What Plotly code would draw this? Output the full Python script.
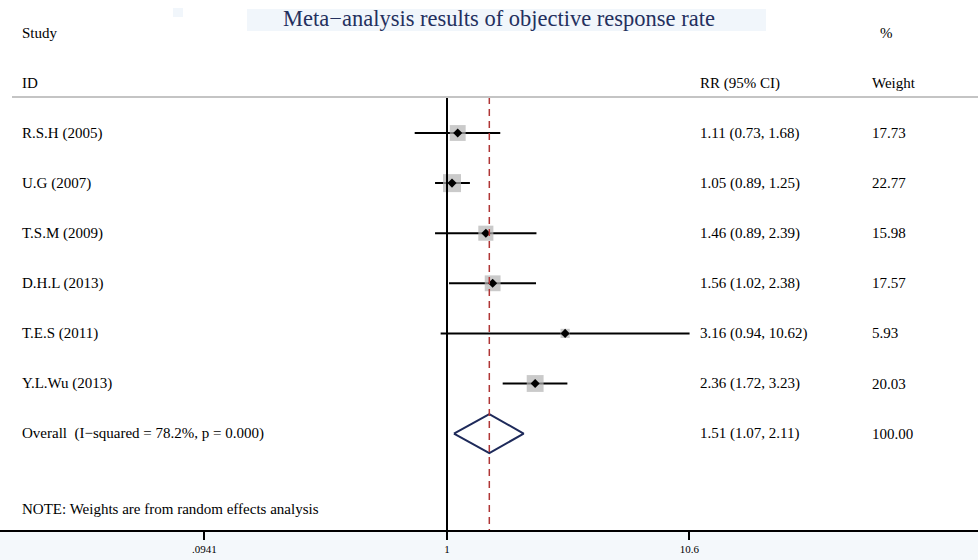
import plotly.graph_objects as go
import math

studies = ["R.S.H (2005)", "U.G (2007)", "T.S.M (2009)", "D.H.L (2013)", "T.E.S (2011)", "Y.L.Wu (2013)"]
rr = [1.11, 1.05, 1.46, 1.56, 3.16, 2.36]
lo = [0.73, 0.89, 0.89, 1.02, 0.94, 1.72]
hi = [1.68, 1.25, 2.39, 2.38, 10.62, 3.23]
weights = [17.73, 22.77, 15.98, 17.57, 5.93, 20.03]
overall_label = "Overall  (I\u2212squared = 78.2%, p = 0.000)"
overall = [1.51, 1.07, 2.11]
overall_weight = 100.00
tick_vals = [0.0941, 1, 10.6]
tick_text = [".0941", "1", "10.6"]

FONT = "Liberation Serif"
W, H = 978, 560
MB = 30
PH = H - MB
ROW0, ROWH = 133, 50.1


def ypix_to_row(p):
    return (p - ROW0) / ROWH


rows = list(range(len(studies)))
orow = len(studies)

fig = go.Figure()

# CI lines
xs, ys = [], []
for i in rows:
    xs += [lo[i], hi[i], None]
    ys += [i, i, None]
fig.add_trace(go.Scatter(x=xs, y=ys, mode="lines", line=dict(color="black", width=2),
                         hoverinfo="skip", showlegend=False))

# weight squares
fig.add_trace(go.Scatter(x=rr, y=rows, mode="markers",
                         marker=dict(symbol="square", color="#b4b4b4",
                                     size=[18 * math.sqrt(w / max(weights)) for w in weights],
                                     line=dict(width=0)),
                         hoverinfo="skip", showlegend=False))
# point estimates
fig.add_trace(go.Scatter(x=rr, y=rows, mode="markers",
                         marker=dict(symbol="diamond", color="black", size=7, line=dict(width=0)),
                         hoverinfo="skip", showlegend=False))

# overall diamond
dh = 0.39
fig.add_trace(go.Scatter(x=[overall[1], overall[0], overall[2], overall[0], overall[1]],
                         y=[orow, orow - dh, orow, orow + dh, orow], mode="lines",
                         line=dict(color="#1e2a5a", width=2), hoverinfo="skip", showlegend=False))

top_line = ypix_to_row(97)
bottom = ypix_to_row(PH)
top = ypix_to_row(0)

shapes = [
    dict(type="line", xref="x", yref="y", x0=1, x1=1, y0=top_line, y1=bottom,
         line=dict(color="black", width=2)),
    dict(type="line", xref="x", yref="y", x0=overall[0], x1=overall[0], y0=top_line, y1=bottom,
         line=dict(color="#b03636", width=1.5, dash="7px,5px")),
    dict(type="line", xref="paper", yref="y", x0=12 / W, x1=1, y0=top_line, y1=top_line,
         line=dict(color="#c4c4c4", width=2)),
    dict(type="rect", xref="paper", yref="y", x0=247 / W, x1=766 / W,
         y0=ypix_to_row(9), y1=ypix_to_row(31), fillcolor="#f1f6fb", line=dict(width=0), layer="below"),
    dict(type="rect", xref="paper", yref="y", x0=173 / W, x1=183 / W,
         y0=ypix_to_row(8), y1=ypix_to_row(17), fillcolor="#f1f6fb", line=dict(width=0), layer="below"),
    dict(type="rect", xref="paper", yref="paper", x0=0, x1=1, y0=-MB / PH, y1=0,
         fillcolor="#f4f8fb", line=dict(width=0), layer="below"),
]

ann = []


def txt(x, row, s, size=15, color="black", xanchor="left"):
    ann.append(dict(x=x / W, xref="paper", y=row, yref="y", text=s, showarrow=False,
                    xanchor=xanchor, yanchor="middle",
                    font=dict(family=FONT, size=size, color=color)))


txt(499, ypix_to_row(18), "Meta\u2212analysis results of objective response rate", size=22.5,
    color="#24305e", xanchor="center")
txt(20, ypix_to_row(33), "Study")
txt(20, ypix_to_row(83), "ID")
txt(698, ypix_to_row(83), "RR (95% CI)")
txt(878, ypix_to_row(33), "%")
txt(870, ypix_to_row(83), "Weight")
for i in rows:
    txt(20, i, studies[i])
    txt(698, i, f"{rr[i]:.2f} ({lo[i]:.2f}, {hi[i]:.2f})")
    txt(870, i, f"{weights[i]:.2f}")
txt(20, orow, overall_label)
txt(698, orow, f"{overall[0]:.2f} ({overall[1]:.2f}, {overall[2]:.2f})")
txt(870, orow, f"{overall_weight:.2f}")
txt(20, ypix_to_row(509), "NOTE: Weights are from random effects analysis")

# x axis: 1 at px 447, 236.4 px per decade
ppd = 236.4
xr = [-447 / ppd, (W - 447) / ppd]

fig.update_layout(
    width=W, height=H,
    margin=dict(l=0, r=0, t=0, b=MB),
    paper_bgcolor="white", plot_bgcolor="white",
    shapes=shapes, annotations=ann,
    xaxis=dict(type="log", range=xr, tickvals=tick_vals, ticktext=tick_text,
               showgrid=False, zeroline=False, showline=True, linecolor="black", linewidth=2,
               ticks="outside", ticklen=8, tickwidth=1.5, tickcolor="black",
               tickfont=dict(family=FONT, size=11, color="black"), fixedrange=True),
    yaxis=dict(range=[bottom, top], showgrid=False, zeroline=False, showline=False,
               showticklabels=False, ticks="", fixedrange=True),
)

fig.write_html("out.html")
